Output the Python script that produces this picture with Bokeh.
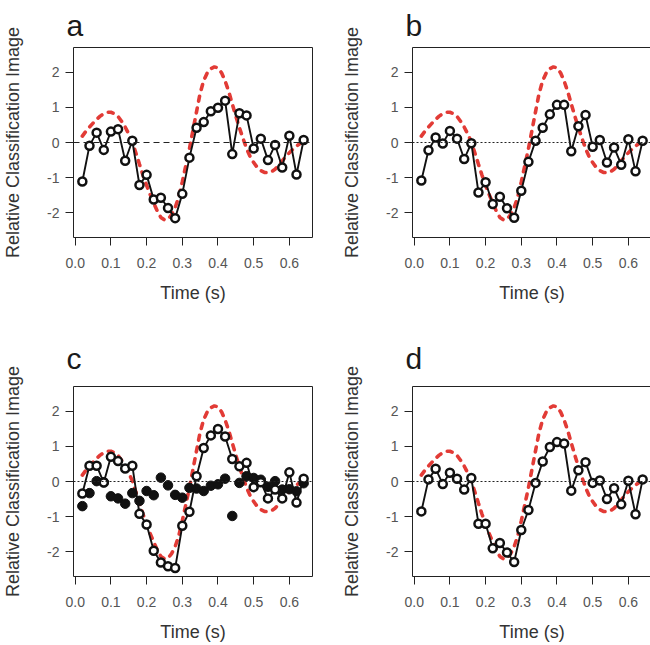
from bokeh.plotting import figure
from bokeh.layouts import column, row
from bokeh.models import Span, FixedTicker
from bokeh.embed import file_html
from bokeh.resources import INLINE

# ---------------- data ----------------
time_s = [0.02, 0.04, 0.06, 0.08, 0.10, 0.12, 0.14, 0.16, 0.18, 0.20, 0.22,
          0.24, 0.26, 0.28, 0.30, 0.32, 0.34, 0.36, 0.38, 0.40, 0.42, 0.44,
          0.46, 0.48, 0.50, 0.52, 0.54, 0.56, 0.58, 0.60, 0.62, 0.64]

panel_a = [-1.11, -0.09, 0.28, -0.21, 0.31, 0.38, -0.52, 0.05, -1.21, -0.92,
           -1.62, -1.57, -1.86, -2.15, -1.46, -0.43, 0.42, 0.58, 0.89, 0.99,
           1.19, -0.33, 0.83, 0.77, -0.17, 0.11, -0.50, -0.07, -0.71, 0.19,
           -0.91, 0.07]

panel_b = [-1.08, -0.22, 0.14, -0.03, 0.33, 0.11, -0.47, -0.02, -1.42, -1.13,
           -1.75, -1.54, -1.87, -2.14, -1.37, -0.55, 0.05, 0.42, 0.80, 1.07,
           1.07, -0.25, 0.46, 0.78, -0.12, 0.07, -0.57, -0.14, -0.63, 0.09,
           -0.82, 0.05]

panel_c_open = [-0.34, 0.45, 0.45, -0.03, 0.70, 0.58, 0.37, 0.45, -0.92, -1.22,
                -1.97, -2.30, -2.41, -2.46, -1.26, -0.86, 0.15, 0.95, 1.31, 1.49,
                1.28, 0.64, 0.43, 0.53, -0.16, -0.02, -0.48, -0.23, -0.48, 0.26,
                -0.60, 0.08]

panel_c_filled = [-0.70, -0.33, 0.01, -0.02, -0.42, -0.48, -0.63, -0.33, -0.55, -0.27,
                  -0.39, 0.11, -0.11, -0.38, -0.46, -0.18, -0.20, -0.27, -0.12, -0.08,
                  0.08, -0.98, -0.04, 0.15, 0.10, 0.05, -0.15, 0.01, -0.23, -0.22,
                  -0.28, -0.05]

panel_d = [-0.85, 0.06, 0.36, -0.07, 0.25, 0.08, -0.23, 0.10, -1.20, -1.20,
           -1.90, -1.75, -2.02, -2.29, -1.38, -0.81, -0.04, 0.57, 0.98, 1.12,
           1.08, -0.26, 0.32, 0.55, -0.04, 0.03, -0.50, -0.19, -0.65, 0.02,
           -0.93, 0.06]

model_t = [0.02, 0.03, 0.04, 0.05, 0.06, 0.07, 0.08, 0.09, 0.10, 0.11, 0.12,
           0.13, 0.14, 0.15, 0.16, 0.17, 0.18, 0.19, 0.20, 0.21, 0.22, 0.23,
           0.24, 0.25, 0.26, 0.27, 0.28, 0.29, 0.30, 0.31, 0.32, 0.33, 0.34,
           0.35, 0.36, 0.37, 0.38, 0.39, 0.40, 0.41, 0.42, 0.43, 0.44, 0.45,
           0.46, 0.47, 0.48, 0.49, 0.50, 0.51, 0.52, 0.53, 0.54, 0.55, 0.56,
           0.57, 0.58, 0.59, 0.60, 0.61, 0.62, 0.63, 0.64]
model_vals = [0.18, 0.32, 0.44, 0.55, 0.66, 0.75, 0.82, 0.86, 0.86, 0.82, 0.74,
              0.60, 0.44, 0.24, 0.02, -0.30, -0.62, -0.93, -1.22, -1.48, -1.72, -1.95,
              -2.13, -2.20, -2.18, -2.05, -1.85, -1.55, -1.12, -0.65, -0.18, 0.35, 0.88,
              1.40, 1.76, 1.98, 2.10, 2.15, 2.12, 1.98, 1.75, 1.45, 1.10, 0.75,
              0.42, 0.12, -0.17, -0.40, -0.57, -0.71, -0.80, -0.85, -0.86, -0.83, -0.76,
              -0.65, -0.52, -0.40, -0.29, -0.19, -0.10, -0.03, 0.03]

x_ticks = [0.0, 0.1, 0.2, 0.3, 0.4, 0.5, 0.6]
x_tick_labels = ["0.0", "0.1", "0.2", "0.3", "0.4", "0.5", "0.6"]
y_ticks = [-2, -1, 0, 1, 2]
y_tick_labels = ["-2", "-1", "0", "1", "2"]

FONT = "Liberation Sans"
RED = "#e23b36"


def make_panel(letter, vals, filled, zero_dash, bl, br, bt, bb, title_standoff):
    p = figure(frame_width=239, frame_height=190,
               x_range=(-0.0048, 0.6648), y_range=(-2.7, 2.7),
               output_backend="svg", toolbar_location=None,
               min_border_left=bl, min_border_right=br,
               min_border_top=bt, min_border_bottom=bb,
               background_fill_color="white", border_fill_color="white")
    p.grid.visible = False
    p.outline_line_color = "#222222"
    p.outline_line_width = 1
    p.outline_line_alpha = 1

    p.title.text = letter
    p.title.text_font = FONT
    p.title.text_font_size = "30px"
    p.title.text_font_style = "normal"
    p.title.text_color = "#1a1a1a"
    p.title.align = "left"
    p.title.offset = -7
    p.title.standoff = title_standoff

    p.xaxis.ticker = FixedTicker(ticks=x_ticks)
    p.xaxis.major_label_overrides = dict(zip(x_ticks, x_tick_labels))
    p.yaxis.ticker = FixedTicker(ticks=y_ticks)
    p.yaxis.major_label_overrides = dict(zip(y_ticks, y_tick_labels))
    p.xaxis.axis_label = "Time (s)"
    p.yaxis.axis_label = "Relative Classification Image"
    for ax in (p.xaxis, p.yaxis):
        ax.axis_line_color = None
        ax.minor_tick_line_color = None
        ax.major_tick_in = 0
        ax.major_tick_out = 8
        ax.major_tick_line_color = "#222222"
        ax.major_tick_line_width = 1
        ax.major_label_text_font = FONT
        ax.major_label_text_font_size = "14px"
        ax.major_label_text_color = "#555555"
        ax.axis_label_text_font = FONT
        ax.axis_label_text_font_size = "18px"
        ax.axis_label_text_font_style = "normal"
        ax.axis_label_text_color = "#333333"
    p.xaxis.major_label_standoff = 12
    p.xaxis.axis_label_standoff = 12
    p.yaxis.major_label_standoff = 6
    p.yaxis.axis_label_standoff = 21
    p.yaxis.major_label_orientation = "horizontal"

    p.add_layout(Span(location=0, dimension="width", line_color="#222222",
                      line_width=1.2, line_dash=zero_dash))

    p.line(model_t, model_vals, line_color=RED, line_width=3.6,
           line_dash="5 7", line_cap="round")

    if filled is not None:
        p.scatter(time_s, filled, size=9.5, marker="circle",
                  fill_color="#111111", line_color="#111111", line_width=1)

    p.line(time_s, vals, line_color="#111111", line_width=1.9)
    p.scatter(time_s, vals, size=8, marker="circle", fill_color="white",
              line_color="#111111", line_width=2.5)
    return p


pa = make_panel("a", panel_a, None, "6 4", 60, 20, 47, 80, 12)
pb = make_panel("b", panel_b, None, "2 2", 80, 4, 47, 80, 12)
pc = make_panel("c", panel_c_open, panel_c_filled, "2 2", 60, 20, 69, 66, 23)
pd = make_panel("d", panel_d, None, "2 2", 80, 4, 69, 66, 23)

layout = column(row(pa, pb), row(pc, pd))

open("out.html", "w").write(file_html(layout, INLINE))
